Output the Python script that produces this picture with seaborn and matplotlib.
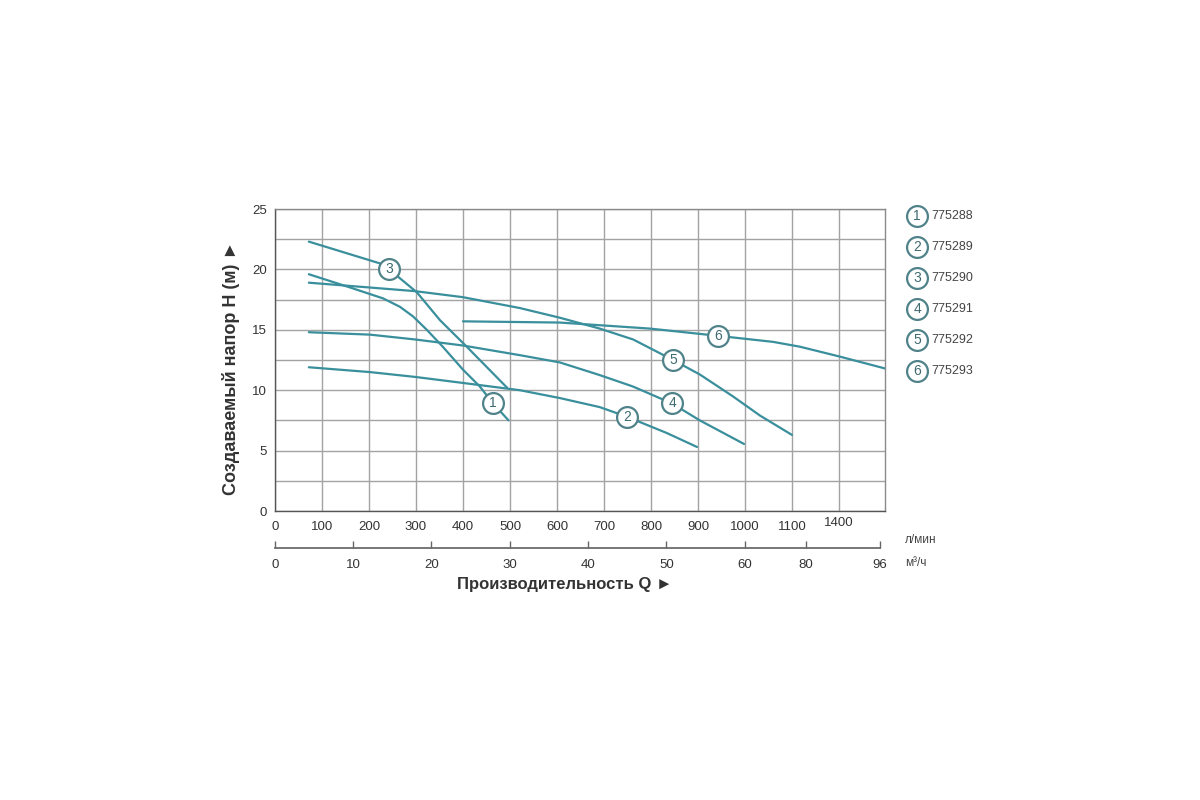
import matplotlib
matplotlib.use('Agg')
import matplotlib.pyplot as plt
import pandas as pd
import seaborn as sns

# Pump curves: flow Q (l/min) and head H (m)
q1 = [72, 160, 230, 266, 294, 323, 357, 400, 436, 464, 497]
h1 = [19.6, 18.5, 17.6, 16.9, 16.1, 15.0, 13.6, 11.7, 10.3, 8.9, 7.5]
q2 = [72, 202, 298, 400, 521, 606, 691, 749, 834, 898]
h2 = [11.9, 11.5, 11.1, 10.6, 10.0, 9.35, 8.6, 7.8, 6.45, 5.3]
q3 = [72, 223, 243, 302, 351, 408, 451, 494]
h3 = [22.3, 20.5, 20.0, 18.1, 15.8, 13.6, 11.9, 10.2]
q4 = [72, 202, 298, 400, 521, 606, 691, 762, 845, 904, 998]
h4 = [14.8, 14.6, 14.2, 13.7, 12.9, 12.3, 11.25, 10.3, 8.9, 7.5, 5.55]
q5 = [72, 202, 298, 400, 521, 606, 691, 762, 847, 904, 974, 1032, 1100]
h5 = [18.9, 18.5, 18.2, 17.7, 16.8, 16.0, 15.1, 14.2, 12.5, 11.3, 9.5, 7.9, 6.3]
q6 = [400, 606, 798, 943, 1060, 1117, 1200, 1298]
h6 = [15.7, 15.6, 15.1, 14.5, 14.0, 13.6, 12.8, 11.8]

models = ['775288', '775289', '775290', '775291', '775292', '775293']
# where the numbered circle sits on each curve
label_q = [464, 749, 243, 845, 847, 943]
label_h = [8.9, 7.8, 20.0, 8.9, 12.5, 14.5]

q_ticks = [0, 100, 200, 300, 400, 500, 600, 700, 800, 900, 1000, 1100, 1200]
q_labels = ['0', '100', '200', '300', '400', '500', '600', '700', '800', '900', '1000', '1100', '1400']
m3_pos = [0, 167, 333, 500, 667, 833, 1000, 1130, 1287]
m3_labels = ['0', '10', '20', '30', '40', '50', '60', '80', '96']

sns.set_theme(style='white')
plt.rcParams['font.family'] = ['Liberation Sans', 'DejaVu Sans']

teal = '#3a8f9c'
ring = '#4f8289'
num = '#3f6a70'
grid = '#a3a3a3'

frames = []
for i, (q, h) in enumerate(zip([q1, q2, q3, q4, q5, q6], [h1, h2, h3, h4, h5, h6])):
    frames.append(pd.DataFrame({'q': q, 'h': h, 'model': models[i]}))
df = pd.concat(frames, ignore_index=True)

fig = plt.figure(figsize=(12, 8), dpi=100)
ax = fig.add_axes([275 / 1200, 289 / 800, 610 / 1200, 302 / 800])

sns.lineplot(data=df, x='q', y='h', hue='model', units='model', estimator=None,
             palette=[teal] * 6, linewidth=1.6, legend=False, ax=ax, zorder=3)

ax.set_xlim(0, 1298)
ax.set_ylim(0, 25)
ax.set_xticks(q_ticks)
ax.set_xticklabels(q_labels)
ax.set_yticks([0, 5, 10, 15, 20, 25])
ax.set_yticks([2.5, 7.5, 12.5, 17.5, 22.5], minor=True)
ax.grid(True, which='both', color=grid, linewidth=1)
ax.tick_params(length=0, labelsize=9.5, colors='#333333', pad=6)
ax.tick_params(axis='x', pad=7)
ax.set_xlabel('')
ax.set_ylabel('')
for s in ax.spines.values():
    s.set_color('#8a8a8a')
    s.set_linewidth(1)
ax.spines['left'].set_color('#555555')
ax.spines['bottom'].set_color('#555555')
# the "1400" label sits a bit higher
ax.get_xticklabels()[-1].set_y(0.012)

for i in range(6):
    ax.plot(label_q[i], label_h[i], marker='o', markersize=15, mfc='white',
            mec=ring, mew=1.6, zorder=5)
    ax.text(label_q[i], label_h[i], str(i + 1), ha='center', va='center',
            fontsize=10, color=num, zorder=6)

# second flow scale in m3/h
ax2 = fig.add_axes([275 / 1200, 252 / 800, 610 / 1200, 0.0001])
ax2.set_facecolor('none')
ax2.set_xlim(0, 1298)
ax2.set_ylim(0, 1)
for k in ['top', 'left', 'right']:
    ax2.spines[k].set_visible(False)
ax2.spines['bottom'].set_bounds(0, 1287)
ax2.spines['bottom'].set_color('#666666')
ax2.set_yticks([])
ax2.set_xticks(m3_pos)
ax2.set_xticklabels(m3_labels)
ax2.tick_params(axis='x', bottom=True, direction='in', length=5, width=1, color='#666666',
                labelsize=9.5, labelcolor='#333333', pad=8)

fig.text(905 / 1200, 1 - 540 / 800, 'л/мин', fontsize=8.5, color='#444444', va='center')
fig.text(905 / 1200, 1 - 563 / 800, 'м³/ч', fontsize=8.5, color='#444444', va='center')

fig.text(565 / 1200, 1 - 585 / 800, 'Производительность Q ►', fontsize=12,
         fontweight='bold', color='#333333', ha='center', va='center')
fig.text(231 / 1200, 1 - 368 / 800, 'Создаваемый напор H (м) ►', fontsize=13,
         fontweight='bold', color='#333333', ha='center', va='center', rotation=90)

# legend with numbered circles
for i, m in enumerate(models):
    y = 1 - (216 + 31 * i) / 800
    fig.lines.append(plt.Line2D([917 / 1200], [y], marker='o', markersize=15,
                                mfc='white', mec=ring, mew=1.6,
                                transform=fig.transFigure))
    fig.text(917 / 1200, y, str(i + 1), ha='center', va='center', fontsize=10, color=num)
    fig.text(931 / 1200, y, m, ha='left', va='center', fontsize=9, color='#444444')

fig.savefig('out.png', dpi=100, facecolor='white')
